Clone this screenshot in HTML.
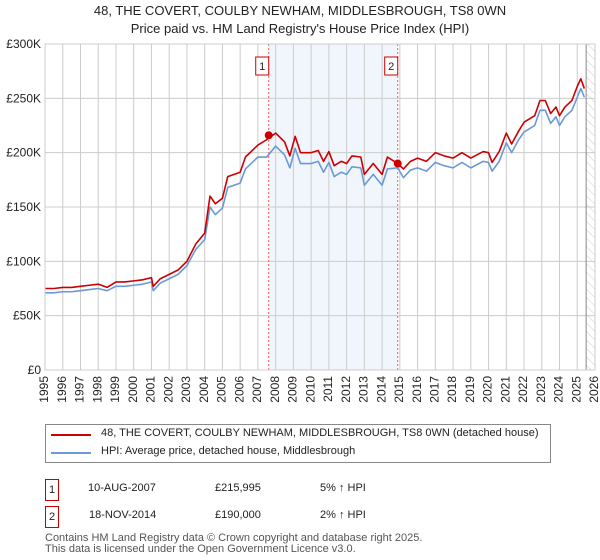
<!DOCTYPE html>
<html><head><meta charset="utf-8">
<style>
body{margin:0;background:#fff;font-family:"Liberation Sans","DejaVu Sans",sans-serif;}
#wrap{position:relative;width:600px;height:560px;overflow:hidden;}
.t{position:absolute;font-size:12px;color:#222;white-space:nowrap;}
</style></head><body>
<div id="wrap">
<div class="t" style="left:0;width:600px;text-align:center;top:3px;font-size:13px;">48, THE COVERT, COULBY NEWHAM, MIDDLESBROUGH, TS8 0WN</div>
<div class="t" style="left:0;width:600px;text-align:center;top:21px;font-size:13px;">Price paid vs. HM Land Registry's House Price Index (HPI)</div>
<svg id="chart" width="600" height="420" style="position:absolute;left:0;top:0"></svg>
<div style="position:absolute;left:45px;top:424px;width:504px;height:37px;border:1px solid #888;">
 <div style="position:absolute;left:5px;top:9px;width:40px;border-top:2px solid #cc0000;"></div>
 <div class="t" style="left:55px;top:2px;font-size:11px;">48, THE COVERT, COULBY NEWHAM, MIDDLESBROUGH, TS8 0WN (detached house)</div>
 <div style="position:absolute;left:5px;top:27px;width:40px;border-top:2px solid #6a9ad6;"></div>
 <div class="t" style="left:55px;top:20px;font-size:11px;">HPI: Average price, detached house, Middlesbrough</div>
</div>
<div>
 <div class="t" style="left:45px;top:479px;width:12px;height:20px;border:1px solid #cc0000;text-align:center;font-size:11px;line-height:20px;">1</div>
 <div class="t" style="left:88px;top:482px;font-size:11px;">10-AUG-2007</div>
 <div class="t" style="left:215px;top:482px;font-size:11px;">£215,995</div>
 <div class="t" style="left:320px;top:482px;font-size:11px;">5% ↑ HPI</div>
</div>
<div>
 <div class="t" style="left:45px;top:506px;width:12px;height:20px;border:1px solid #cc0000;text-align:center;font-size:11px;line-height:20px;">2</div>
 <div class="t" style="left:89px;top:509px;font-size:11px;">18-NOV-2014</div>
 <div class="t" style="left:215px;top:509px;font-size:11px;">£190,000</div>
 <div class="t" style="left:320px;top:509px;font-size:11px;">2% ↑ HPI</div>
</div>
<div class="t" style="left:45px;top:533px;font-size:11px;line-height:11px;color:#555;">Contains HM Land Registry data © Crown copyright and database right 2025.<br>This data is licensed under the Open Government Licence v3.0.</div>
</div>
<script>
const years=[1995,1995.5,1996,1996.5,1997,1997.5,1998,1998.5,1999,1999.5,2000,2000.5,2001,
2001.1,2001.5,2002,2002.5,2003,2003.5,2004,2004.3,2004.6,
2005,2005.3,2006,2006.3,2007,2007.5,2008,2008.5,2008.8,2009.1,2009.4,
2010,2010.4,2010.7,2011,2011.3,2011.7,2012,2012.3,2012.8,2013,2013.5,2014,2014.3,2014.88,
2015.2,2015.6,2016,2016.5,2017,2017.5,2018,2018.5,2019,2019.7,2020,2020.2,2020.6,
2021,2021.3,2021.7,2022,2022.6,2022.9,2023.2,2023.5,2023.8,2024,2024.3,2024.7,2025,2025.2,2025.4];
const hpi=[71,71,72,72,73,74,75,73,77,77,78,79,81,
73,80,84,88,96,111,120,150,143,
149,168,172,185,196,196,206,198,186,204,190,
190,192,182,191,178,182,180,187,186,170,180,170,185,186,
177,184,186,183,191,188,186,191,186,192,191,183,192,
209,200,212,219,225,239,239,227,233,225,233,239,251,259,251];
const price=[75,75,76,76,77,78,79,76,81,81,82,83,85,
77,84,88,92,100,116,126,160,153,
158,178,182,196,207,212,218,210,197,215,200,
200,202,192,201,188,192,190,197,196,180,190,180,196,190,
185,192,195,192,200,197,195,200,195,201,200,191,201,
218,208,220,228,234,248,248,236,242,234,242,248,261,268,259];
const saleYears=[2007.61,2014.88];
const saleValues=[216,190];
const saleLabels=["1","2"];
const yTicks=[0,50,100,150,200,250,300];
const yTickLabels=["£0","£50K","£100K","£150K","£200K","£250K","£300K"];
const xTicks=[1995,1996,1997,1998,1999,2000,2001,2002,2003,2004,2005,2006,2007,2008,2009,2010,2011,2012,2013,2014,2015,2016,2017,2018,2019,2020,2021,2022,2023,2024,2025,2026];
const x0=45,x1=595,yb=370,yt=44;
const X=v=>x0+(v-1995)/(2026-1995)*(x1-x0);
const Y=v=>yb-v/300*(yb-yt);
const svg=document.getElementById('chart');
const NS='http://www.w3.org/2000/svg';
function mk(tag,attrs,parent){const e=document.createElementNS(NS,tag);for(const k in attrs)e.setAttribute(k,attrs[k]);(parent||svg).appendChild(e);return e;}
const defs=mk('defs',{});
const pat=mk('pattern',{id:'hatch',width:6,height:6,patternUnits:'userSpaceOnUse',patternTransform:'rotate(-45)'},defs);
mk('line',{x1:0,y1:0,x2:0,y2:6,stroke:'#ccc','stroke-width':1},pat);
const shade=mk('rect',{x:X(saleYears[0]),y:yt,width:X(saleYears[1])-X(saleYears[0]),height:yb-yt,fill:'#eef2fb',opacity:0.8});


const hatch=mk('rect',{x:X(2025.5),y:yt,width:x1-X(2025.5),height:yb-yt,fill:'url(#hatch)'});


xTicks.forEach(t=>{const l=mk('line',{x1:X(t),x2:X(t),y1:yt,y2:yb,stroke:'#ccc'});


const tx=mk('text',{x:X(t),y:yb+6,'font-size':12,fill:'#222','text-anchor':'end','dominant-baseline':'middle',transform:`rotate(-90 ${X(t)} ${yb+6})`});
tx.textContent=t;

});
yTicks.forEach((t,i)=>{const l=mk('line',{x1:x0,x2:x1,y1:Y(t),y2:Y(t),stroke:'#ccc'});


const tx=mk('text',{x:x0-4,y:Y(t)+4,'font-size':12,fill:'#222','text-anchor':'end'});
tx.textContent=yTickLabels[i];

});
const dl=mk('line',{x1:X(2025.5),x2:X(2025.5),y1:yt,y2:yb,stroke:'#888'});


saleYears.forEach((s,i)=>{const l=mk('line',{x1:X(s),x2:X(s),y1:yt,y2:yb,stroke:'#f06060','stroke-dasharray':'2,2'});


const r=mk('rect',{x:X(s)-13,y:57,width:13,height:18,fill:'#fff',stroke:'#cc0000'});


const t=mk('text',{x:X(s)-6.5,y:70,'font-size':11,'text-anchor':'middle',fill:'#222'});t.textContent=saleLabels[i];

});
function line(vals,color,name){const p=mk('polyline',{points:years.map((y,i)=>X(y)+','+Y(vals[i])).join(' '),fill:'none',stroke:color,'stroke-width':1.6,'stroke-linejoin':'round'});

}
line(hpi,'#6a9ad6','hpi-line');
line(price,'#cc0000','price-line');
saleYears.forEach((s,i)=>{const c=mk('circle',{cx:X(s),cy:Y(saleValues[i]),r:4,fill:'#cc0000'});

});
const fr=mk('rect',{x:x0,y:yt,width:x1-x0,height:yb-yt,fill:'none',stroke:'#ccc'});


</script>
</body></html>
